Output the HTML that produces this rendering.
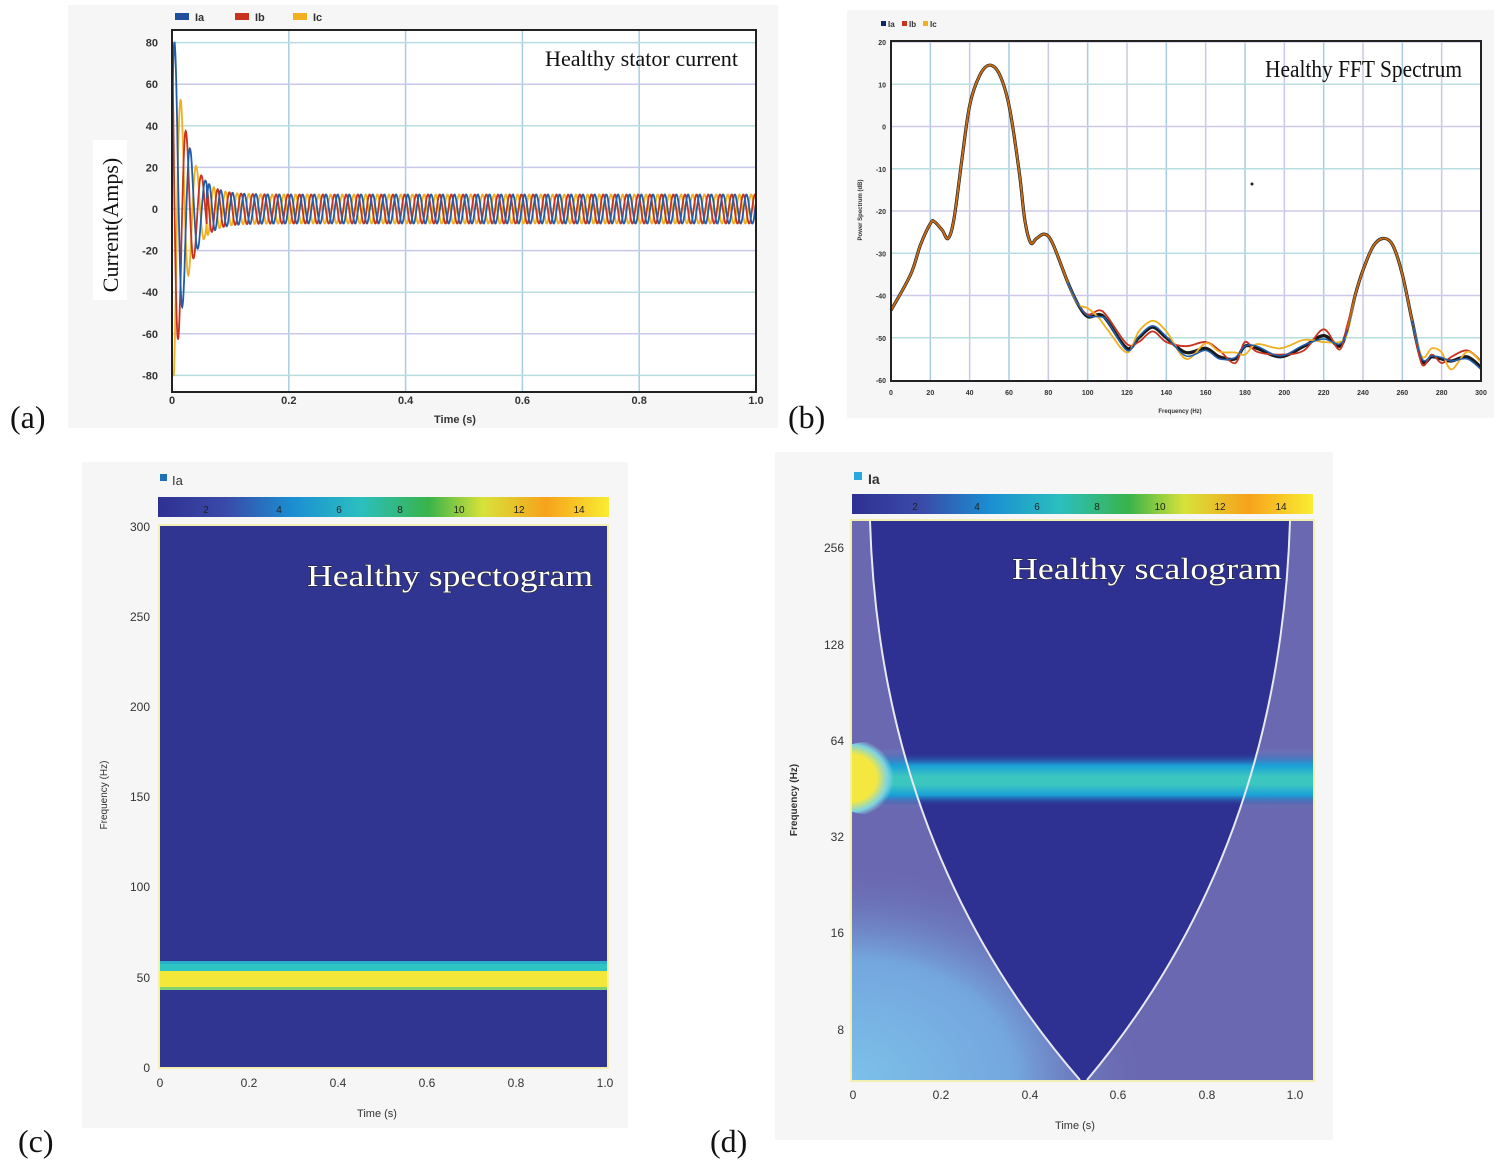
<!DOCTYPE html>
<html><head><meta charset="utf-8"><style>
html,body{margin:0;padding:0;background:#fff;}
svg{display:block;font-family:"Liberation Sans",sans-serif;}
.serif{font-family:"Liberation Serif",serif;}
</style></head><body>
<svg id="s" width="1504" height="1171" viewBox="0 0 1504 1171" xmlns="http://www.w3.org/2000/svg">
<defs>
<linearGradient id="cb" x1="0" x2="1" y1="0" y2="0">
<stop offset="0" stop-color="#2e3192"/><stop offset="0.15" stop-color="#3a4aa8"/>
<stop offset="0.3" stop-color="#1b8fd2"/><stop offset="0.45" stop-color="#2bbfbf"/>
<stop offset="0.6" stop-color="#39b34a"/><stop offset="0.72" stop-color="#d7e23a"/>
<stop offset="0.86" stop-color="#f7a21b"/><stop offset="1" stop-color="#f9ed32"/>
</linearGradient>
<linearGradient id="band" x1="0" x2="0" y1="0" y2="1">
<stop offset="0" stop-color="#2e3192" stop-opacity="0"/><stop offset="0.25" stop-color="#1aa0d8"/>
<stop offset="0.45" stop-color="#3cc6c0"/><stop offset="0.6" stop-color="#3cc6c0"/>
<stop offset="0.8" stop-color="#1aa0d8"/><stop offset="1" stop-color="#2e3192" stop-opacity="0"/>
</linearGradient>
<linearGradient id="bandout" x1="0" x2="0" y1="0" y2="1">
<stop offset="0" stop-color="#6a68b0" stop-opacity="0"/><stop offset="0.3" stop-color="#6fb6e6"/>
<stop offset="0.5" stop-color="#8fd8ee"/><stop offset="0.7" stop-color="#6fb6e6"/>
<stop offset="1" stop-color="#6a68b0" stop-opacity="0"/>
</linearGradient>
<radialGradient id="blob" cx="0.3" cy="0.5" r="0.55">
<stop offset="0" stop-color="#f4e840"/><stop offset="0.6" stop-color="#f4e840"/>
<stop offset="0.85" stop-color="#7fd3e0"/><stop offset="1" stop-color="#7fd3e0" stop-opacity="0"/>
</radialGradient>
<radialGradient id="ll" cx="0" cy="1" r="1">
<stop offset="0" stop-color="#7cc0ea"/><stop offset="0.55" stop-color="#74a6de"/><stop offset="1" stop-color="#6a68b0" stop-opacity="0"/>
</radialGradient>
<radialGradient id="lft" cx="0" cy="0.5" r="0.5"><stop offset="0" stop-color="#7fc8ea"/><stop offset="1" stop-color="#6a68b0" stop-opacity="0"/></radialGradient>
<clipPath id="cpd"><rect x="852" y="521" width="461" height="559"/></clipPath>
</defs>

<!-- Panel a -->
<rect x="68" y="5" width="710" height="423" fill="#f6f6f6"/>
<rect x="172" y="30" width="584" height="362" fill="#fff"/>
<g id="ga"></g>
<rect x="172" y="30" width="584" height="362" fill="none" stroke="#222" stroke-width="2"/>
<g font-size="11" font-weight="bold" fill="#333">
<rect x="175" y="13" width="14" height="7" fill="#1f4e9c"/><text x="195" y="21">Ia</text>
<rect x="235" y="13" width="14" height="7" fill="#c8321e"/><text x="255" y="21">Ib</text>
<rect x="293" y="13" width="14" height="7" fill="#f0b020"/><text x="313" y="21">Ic</text>
</g>
<text class="serif" x="545" y="66" font-size="22" fill="#111" textLength="193" lengthAdjust="spacingAndGlyphs">Healthy stator current</text>
<rect x="93" y="140" width="34" height="160" fill="#fff"/>
<text class="serif" transform="translate(118,225) rotate(-90)" text-anchor="middle" font-size="22" fill="#111">Current(Amps)</text>
<text x="455" y="423" font-size="11" font-weight="bold" text-anchor="middle" fill="#333">Time (s)</text>
<text class="serif" x="10" y="428" font-size="32" fill="#111">(a)</text>

<!-- Panel b -->
<rect x="847" y="10" width="647" height="408" fill="#f6f6f6"/>
<rect x="891" y="41" width="590" height="340" fill="#fff"/>
<g id="gb"></g>
<rect x="891" y="41" width="590" height="340" fill="none" stroke="#222" stroke-width="2"/>
<g font-size="8" font-weight="bold" fill="#333">
<rect x="881" y="21" width="5" height="5" fill="#0a2a6a"/><text x="888" y="27">Ia</text>
<rect x="902" y="21" width="5" height="5" fill="#c8321e"/><text x="909" y="27">Ib</text>
<rect x="923" y="21" width="5" height="5" fill="#f0b020"/><text x="930" y="27">Ic</text>
</g>
<text class="serif" x="1265" y="77" font-size="24" fill="#111" textLength="197" lengthAdjust="spacingAndGlyphs">Healthy  FFT Spectrum</text>
<text transform="translate(862,210) rotate(-90)" text-anchor="middle" font-size="6" font-weight="bold" fill="#333">Power Spectrum (dB)</text>
<text x="1180" y="413" font-size="6" font-weight="bold" text-anchor="middle" fill="#333">Frequency (Hz)</text>
<circle cx="1252" cy="184" r="1.5" fill="#222"/>
<text class="serif" x="788" y="428" font-size="32" fill="#111">(b)</text>

<!-- Panel c -->
<rect x="82" y="462" width="546" height="666" fill="#f6f6f6"/>
<rect x="160" y="474" width="7" height="7" fill="#1f6fb8"/>
<text x="172" y="485" font-size="13" fill="#333">Ia</text>
<rect x="158" y="497" width="451" height="20" fill="url(#cb)"/>
<g font-size="10" fill="#222" text-anchor="middle"><text x="206" y="513">2</text><text x="279" y="513">4</text><text x="339" y="513">6</text><text x="400" y="513">8</text><text x="459" y="513">10</text><text x="519" y="513">12</text><text x="579" y="513">14</text></g>
<rect x="158" y="524" width="451" height="545" fill="#f2efb0"/>
<rect x="160" y="526" width="447" height="541" fill="#303592"/>
<rect x="160" y="961" width="447" height="12" fill="#27b0c8"/>
<rect x="160" y="964" width="447" height="7" fill="#2ec4c4"/>
<rect x="160" y="971" width="447" height="17" fill="#f3e83a"/>
<rect x="160" y="987" width="447" height="3" fill="#7fd070"/>
<g font-size="12" fill="#333" text-anchor="end">
<text x="150" y="531">300</text><text x="150" y="621">250</text><text x="150" y="711">200</text><text x="150" y="801">150</text><text x="150" y="891">100</text><text x="150" y="982">50</text><text x="150" y="1072">0</text>
</g>
<g font-size="12" fill="#333" text-anchor="middle">
<text x="160" y="1087">0</text><text x="249" y="1087">0.2</text><text x="338" y="1087">0.4</text><text x="427" y="1087">0.6</text><text x="516" y="1087">0.8</text><text x="605" y="1087">1.0</text>
</g>
<text x="377" y="1117" font-size="11" text-anchor="middle" fill="#333">Time (s)</text>
<text transform="translate(107,795) rotate(-90)" text-anchor="middle" font-size="10" fill="#333">Frequency (Hz)</text>
<text class="serif" x="307" y="586" font-size="31" fill="#fff" stroke="#222" stroke-width="1" paint-order="stroke" textLength="286" lengthAdjust="spacingAndGlyphs">Healthy spectogram</text>
<text class="serif" x="18" y="1152" font-size="32" fill="#111">(c)</text>

<!-- Panel d -->
<rect x="775" y="452" width="558" height="688" fill="#f6f6f6"/>
<rect x="854" y="472" width="8" height="8" fill="#29a8e0"/>
<text x="868" y="484" font-size="14" font-weight="bold" fill="#333">Ia</text>
<rect x="852" y="494" width="461" height="20" fill="url(#cb)"/>
<g font-size="10" fill="#222" text-anchor="middle"><text x="915" y="510">2</text><text x="977" y="510">4</text><text x="1037" y="510">6</text><text x="1097" y="510">8</text><text x="1160" y="510">10</text><text x="1220" y="510">12</text><text x="1281" y="510">14</text></g>
<rect x="850" y="519" width="465" height="563" fill="#f2efb0"/>
<g clip-path="url(#cpd)">
<rect x="852" y="521" width="461" height="559" fill="#6a68b0"/>
<rect x="852" y="860" width="300" height="220" fill="url(#ll)"/>
<rect x="792" y="600" width="120" height="340" fill="url(#lft)" opacity="0.8"/>
<rect x="852" y="745" width="461" height="66" fill="url(#bandout)"/>
<path d="M870,521 Q880,850 1080,1080 L1087,1080 Q1280,850 1290,521 Z" fill="#2e3192"/>
<rect x="852" y="752" width="461" height="54" fill="url(#band)"/>
<ellipse cx="866" cy="778" rx="40" ry="36" fill="url(#blob)"/>
</g>
<path d="M870,521 Q880,850 1080,1080 M1087,1080 Q1280,850 1290,521" fill="none" stroke="#e8e8f0" stroke-width="2"/>
<g font-size="12" fill="#333" text-anchor="end">
<text x="844" y="552">256</text><text x="844" y="649">128</text><text x="844" y="745">64</text><text x="844" y="841">32</text><text x="844" y="937">16</text><text x="844" y="1034">8</text>
</g>
<g font-size="12" fill="#333" text-anchor="middle">
<text x="853" y="1099">0</text><text x="941" y="1099">0.2</text><text x="1030" y="1099">0.4</text><text x="1118" y="1099">0.6</text><text x="1207" y="1099">0.8</text><text x="1295" y="1099">1.0</text>
</g>
<text x="1075" y="1129" font-size="11" text-anchor="middle" fill="#333">Time (s)</text>
<text transform="translate(797,800) rotate(-90)" text-anchor="middle" font-size="10" font-weight="bold" fill="#333">Frequency (Hz)</text>
<text class="serif" x="1012" y="579" font-size="31" fill="#fff" stroke="#222" stroke-width="1" paint-order="stroke" textLength="270" lengthAdjust="spacingAndGlyphs">Healthy scalogram</text>
<text class="serif" x="710" y="1152" font-size="32" fill="#111">(d)</text>
</svg>
<script>
var NS="http://www.w3.org/2000/svg";
function el(p,t,a){var e=document.createElementNS(NS,t);for(var k in a)e.setAttribute(k,a[k]);p.appendChild(e);return e;}
var ga=document.getElementById('ga');
var x0=172,x1=756,yz=209,ys=41.6/20;
for(var i=1;i<5;i++){var x=x0+i*(x1-x0)/5;el(ga,'line',{x1:x,x2:x,y1:30,y2:392,stroke:'#a8cde0','stroke-width':1.5});}
for(var v=-80;v<=80;v+=20){var y=yz-v*ys;el(ga,'line',{x1:172,x2:756,y1:y,y2:y,stroke:(v/20)%2?'#c8c8e8':'#b8dde0','stroke-width':1.5});}
var g2=el(ga,'g',{'font-size':11,'font-weight':'bold',fill:'#333','text-anchor':'end'});
for(var v=-80;v<=80;v+=20){var t=el(g2,'text',{x:158,y:yz-v*ys+4});t.textContent=v;}
var g3=el(ga,'g',{'font-size':11,'font-weight':'bold',fill:'#333','text-anchor':'middle'});
['0','0.2','0.4','0.6','0.8','1.0'].forEach(function(s,i){var t=el(g3,'text',{x:x0+i*(x1-x0)/5,y:404});t.textContent=s;});
var cols=['#f0b020','#c8321e','#1f5eac'],ph=[4.19,2.09,0];
for(var c=0;c<3;c++){var d='';for(var k=0;k<=2000;k++){var t=k/2000;var A=7+90*Math.exp(-t/0.022);var w=2*Math.PI*(t<0.06?38:50)*t;var val=A*Math.sin(w+ph[c]+(c==2?0.4:0));val=Math.max(-80,Math.min(80,val));d+=(k?'L':'M')+(x0+t*(x1-x0)).toFixed(1)+','+(yz-val*ys).toFixed(1);}
el(ga,'path',{d:d,fill:'none',stroke:cols[c],'stroke-width':1.8});}
var gb=document.getElementById('gb');
var bx0=891,bx1=1481,by0=42,bys=(380-42)/80;
function BX(f){return bx0+f*(bx1-bx0)/300;} function BY(v){return by0+(20-v)*bys;}
for(var f=20;f<300;f+=20)el(gb,'line',{x1:BX(f),x2:BX(f),y1:41,y2:381,stroke:(f/20)%2?'#a8cde0':'#c8c8e8','stroke-width':1.5});
for(var v=-50;v<=20;v+=10)el(gb,'line',{x1:891,x2:1481,y1:BY(v),y2:BY(v),stroke:(v/10)%2?'#b8dde0':'#d0c8e8','stroke-width':1.5});
var gt=el(gb,'g',{'font-size':7,'font-weight':'bold',fill:'#333','text-anchor':'end'});
for(var v=-60;v<=20;v+=10){var t=el(gt,'text',{x:886,y:BY(v)+3});t.textContent=v;}
var gx=el(gb,'g',{'font-size':7,'font-weight':'bold',fill:'#333','text-anchor':'middle'});
for(var f=0;f<=300;f+=20){var t=el(gx,'text',{x:BX(f),y:395});t.textContent=f;}
var base=[[0,-43.5],[10,-35],[15,-28],[20,-23],[22,-22.5],[26,-24.5],[29,-26.5],[32,-22],[36,-8],[40,5],[45,12],[50,14.5],[55,12.5],[60,5],[65,-10],[68,-22],[71,-27.5],[74,-26.5],[78,-25.5],[82,-27.5],[90,-37],[95,-42],[100,-45],[106,-44.5],[110,-46],[120,-52.5],[126,-50],[133,-47.5],[140,-50],[150,-53.5],[160,-52.5],[167,-54.5],[175,-55],[180,-52],[186,-52.5],[198,-54.5],[210,-52],[220,-49.5],[228,-52],[232,-48],[236,-40],[240,-34],[245,-28.5],[250,-26.5],[255,-28],[260,-35],[265,-46],[270,-55.5],[275,-54.5],[280,-55],[285,-55.5],[293,-54.5],[300,-57]];
function path(pts){var d='';for(var i=0;i<pts.length-1;i++){var p0=pts[Math.max(0,i-1)],p1=pts[i],p2=pts[i+1],p3=pts[Math.min(pts.length-1,i+2)];
if(!i)d='M'+BX(p1[0]).toFixed(1)+','+BY(p1[1]).toFixed(1);
var c1x=BX(p1[0]+(p2[0]-p0[0])/6),c1y=BY(p1[1]+(p2[1]-p0[1])/6),c2x=BX(p2[0]-(p3[0]-p1[0])/6),c2y=BY(p2[1]-(p3[1]-p1[1])/6);
d+='C'+c1x.toFixed(1)+','+c1y.toFixed(1)+' '+c2x.toFixed(1)+','+c2y.toFixed(1)+' '+BX(p2[0]).toFixed(1)+','+BY(p2[1]).toFixed(1);}return d;}
function vary(o){return base.map(function(p){var f=p[0];var dv=(f>95&&f<235)||(f>265)?(o[Math.round(f)%7]||0):0;return [p[0],p[1]+dv];});}
el(gb,'path',{d:path(base),fill:'none',stroke:'#1a1a1a','stroke-width':3.2});
el(gb,'path',{d:path(vary([-1,1,0.5,1.5,-0.8,1,1.5])),fill:'none',stroke:'#c8321e','stroke-width':1.8});
el(gb,'path',{d:path(vary([1.5,-1,2,-1.5,1,-2,1.2])),fill:'none',stroke:'#f0b020','stroke-width':1.8});
el(gb,'path',{d:path(vary([0.3,-0.5,0.2,-0.8,0.5,0,-0.5])),fill:'none',stroke:'#1f5eac','stroke-width':1.5});
el(gb,'path',{d:path(base.filter(function(p){return p[0]<95;})),fill:'none',stroke:'#c86a10','stroke-width':1.6});
el(gb,'path',{d:path(base.filter(function(p){return p[0]>=232&&p[0]<=268;})),fill:'none',stroke:'#c86a10','stroke-width':1.6});
</script>
</body></html>
